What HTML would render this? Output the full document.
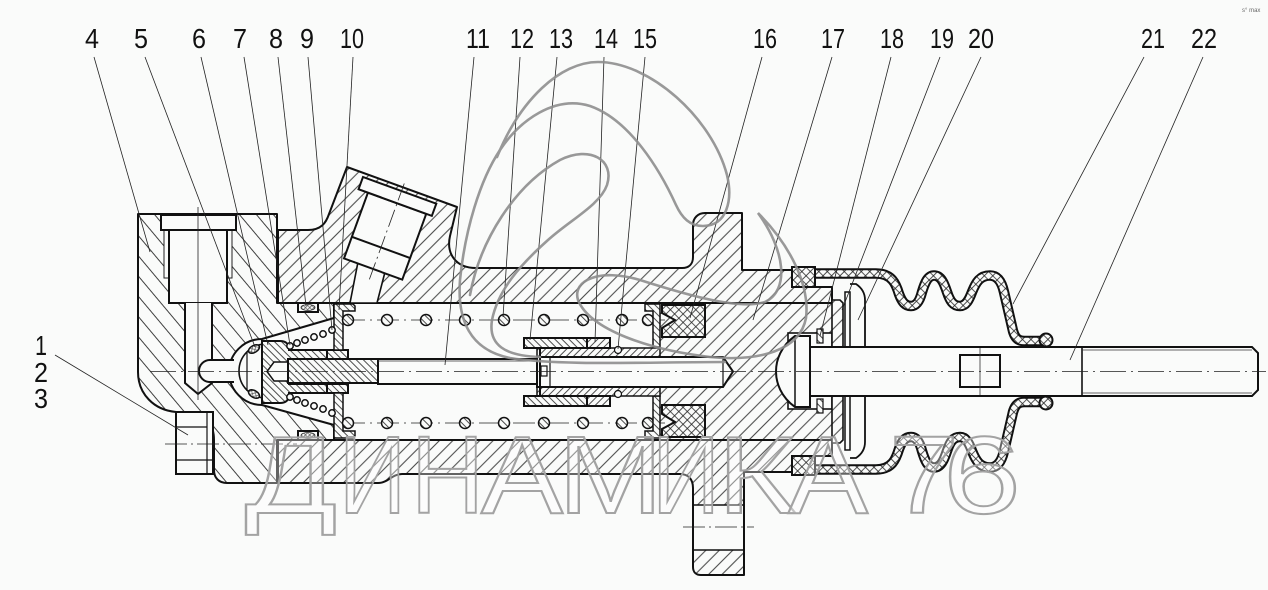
<!DOCTYPE html>
<html><head><meta charset="utf-8"><style>
html,body{margin:0;padding:0;background:#fafbfa;}
svg{display:block}
</style></head><body>
<svg width="1268" height="590" viewBox="0 0 1268 590" xmlns="http://www.w3.org/2000/svg">
<defs>
<pattern id="hR" width="9.5" height="9.5" patternUnits="userSpaceOnUse" patternTransform="rotate(45)"><rect width="9.5" height="9.5" fill="#fafbfa"/><line x1="4.75" y1="-1" x2="4.75" y2="11" stroke="#2a2a2a" stroke-width="0.9"/></pattern>
<pattern id="hL" width="13" height="13" patternUnits="userSpaceOnUse" patternTransform="rotate(-40)"><rect width="13" height="13" fill="#fafbfa"/><line x1="6.5" y1="-1" x2="6.5" y2="14" stroke="#2a2a2a" stroke-width="0.9"/></pattern>
<pattern id="hF" width="5" height="5" patternUnits="userSpaceOnUse" patternTransform="rotate(-45)"><rect width="5" height="5" fill="#fafbfa"/><line x1="2.5" y1="-1" x2="2.5" y2="6" stroke="#222" stroke-width="0.8"/></pattern>
<pattern id="hF2" width="5" height="5" patternUnits="userSpaceOnUse" patternTransform="rotate(45)"><rect width="5" height="5" fill="#fafbfa"/><line x1="2.5" y1="-1" x2="2.5" y2="6" stroke="#222" stroke-width="0.8"/></pattern>
<pattern id="xh" width="6" height="6" patternUnits="userSpaceOnUse" patternTransform="rotate(45)"><rect width="6" height="6" fill="#fafbfa"/><path d="M3 -1 V7 M-1 3 H7" stroke="#222" stroke-width="0.8" fill="none"/></pattern>
<pattern id="xs" width="3" height="3" patternUnits="userSpaceOnUse" patternTransform="rotate(45)"><rect width="3" height="3" fill="#fafbfa"/><path d="M1.5 -1 V4 M-1 1.5 H4" stroke="#333" stroke-width="0.6" fill="none"/></pattern>
</defs>

<rect width="1268" height="590" fill="#fafbfa"/>

<!-- HOUSING (left) -->
<path d="M138 214 L277 214 L277 303 L334 303 L334 318 L262 339 A33 33 0 0 0 262 405 L334 425 L334 440 L277 440 L277 483 L227 483 C219 483 214 478 214 470 L214 440 C214 425 206 413 192 412 L176 412 C154 410 138 394 138 372 Z" fill="url(#hL)" stroke="#111" stroke-width="2" stroke-linejoin="round"/>

<!-- BODY top wall with bosses -->
<path d="M278 230 L308 230 C321 230 326 223 329 214 L347 167 L457 207 L450 236 C446 254 456 268 476 268 L682 268 C689 268 693 264 693 257 L693 225 C693 218 698 213 705 213 L742 213 L742 270 L792 270 L792 287 L832 287 L832 303 L278 303 Z" fill="url(#hR)" stroke="#111" stroke-width="2" stroke-linejoin="round"/>
<!-- BODY bottom wall with flange -->
<path d="M278 440 L832 440 L832 456 L792 456 L792 472 L744 472 L744 575 L701 575 C696 575 693 572 693 567 L693 488 C693 479 688 474 680 474 L402 474 C392 474 388 483 378 483 L278 483 Z" fill="url(#hR)" stroke="#111" stroke-width="2" stroke-linejoin="round"/>
<!-- PISTON -->
<rect x="660" y="303" width="172" height="137" fill="url(#hR)"/>
<line x1="278" y1="303" x2="832" y2="303" stroke="#111" stroke-width="2"/>
<line x1="278" y1="440" x2="832" y2="440" stroke="#111" stroke-width="2"/>

<!-- flange hole -->
<rect x="694" y="505" width="49" height="45" fill="#fafbfa"/>
<line x1="693" y1="505" x2="744" y2="505" stroke="#111" stroke-width="1.6"/>
<line x1="693" y1="550" x2="744" y2="550" stroke="#111" stroke-width="1.6"/>
<line x1="683" y1="527" x2="754" y2="527" stroke="#222" stroke-width="0.8" stroke-dasharray="22 4 2 4"/>

<!-- top bolt in housing -->
<rect x="164" y="230" width="68" height="48" fill="#fafbfa" stroke="#222" stroke-width="1"/>
<rect x="169" y="230" width="58" height="73" fill="#fafbfa" stroke="#111" stroke-width="2"/>
<rect x="161" y="215" width="75" height="15" fill="#fafbfa" stroke="#111" stroke-width="2"/>
<path d="M185 303 L185 383 L198 394 L212 383 L212 303" fill="#fafbfa" stroke="#111" stroke-width="2"/>
<path d="M234 360 L210 360 A11 11 0 0 0 210 382 L234 382" fill="#fafbfa" stroke="#111" stroke-width="2"/>
<line x1="198" y1="207" x2="198" y2="400" stroke="#222" stroke-width="0.8"/>

<!-- bolt 1-3 -->
<rect x="176" y="412" width="37" height="62" fill="#fafbfa" stroke="#111" stroke-width="2"/>
<line x1="176" y1="427" x2="207" y2="427" stroke="#111" stroke-width="1.2"/>
<line x1="176" y1="460" x2="213" y2="460" stroke="#111" stroke-width="1.2"/>
<line x1="207" y1="412" x2="207" y2="474" stroke="#111" stroke-width="1.2"/>
<line x1="165" y1="444" x2="297" y2="444" stroke="#222" stroke-width="0.8" stroke-dasharray="22 4 2 4"/>

<!-- plug in inclined boss -->
<polygon points="358,262 385,272 377,303 350,303" fill="#fafbfa" stroke="#111" stroke-width="1.6"/>
<g transform="translate(363,177) rotate(20)">
<rect x="10" y="13" width="62" height="70" fill="#fafbfa" stroke="#111" stroke-width="2"/>
<line x1="10" y1="60" x2="72" y2="60" stroke="#111" stroke-width="2"/>
<rect x="0" y="0" width="78" height="13" fill="#fafbfa" stroke="#111" stroke-width="2"/>
<line x1="41" y1="-8" x2="41" y2="95" stroke="#222" stroke-width="0.8" stroke-dasharray="18 4 2 4"/>
</g>

<!-- dome cup & valve -->
<path d="M266 344 A27 27 0 0 0 266 398" fill="none" stroke="#111" stroke-width="1.6"/>
<line x1="247" y1="352" x2="247" y2="391" stroke="#111" stroke-width="1.2"/>
<ellipse cx="254" cy="349" rx="6" ry="3.5" transform="rotate(-30 254 349)" fill="url(#xs)" stroke="#111" stroke-width="1.5"/>
<ellipse cx="254" cy="394" rx="6" ry="3.5" transform="rotate(30 254 394)" fill="url(#xs)" stroke="#111" stroke-width="1.5"/>
<path d="M262 341 L280 341 Q288 341 289 348 L289 350 L327 350 L327 359 L289 359 L289 384 L327 384 L327 393 L289 393 L289 396 Q288 403 280 403 L262 403 Z" fill="url(#hF)" stroke="#111" stroke-width="2"/>
<path d="M288 362 L274 362 L267 371.5 L274 381 L288 381 Z" fill="#fafbfa" stroke="#111" stroke-width="1.5"/>
<rect x="288" y="359" width="90" height="24" fill="url(#hF)" stroke="#111" stroke-width="2"/>
<rect x="378" y="359" width="159" height="25" fill="#fafbfa" stroke="#111" stroke-width="2"/>
<line x1="378" y1="361" x2="530" y2="361" stroke="#333" stroke-width="0.8"/>
<rect x="327" y="350" width="21" height="9" fill="url(#hF)" stroke="#111" stroke-width="2"/>
<rect x="327" y="384" width="21" height="9" fill="url(#hF)" stroke="#111" stroke-width="2"/>
<path d="M334 304 L353 304 L355 306 L355 311 L343 311 L343 350 L334 350 Z" fill="url(#hF)" stroke="#111" stroke-width="1.5"/>
<path d="M334 438 L353 438 L355 436 L355 431 L343 431 L343 393 L334 393 Z" fill="url(#hF)" stroke="#111" stroke-width="1.5"/>

<!-- seals 8 -->
<rect x="298" y="303" width="20" height="9" fill="#fafbfa" stroke="#111" stroke-width="2"/>
<ellipse cx="308" cy="307.5" rx="7" ry="3" fill="url(#xs)" stroke="#333" stroke-width="0.8"/>
<rect x="298" y="431" width="20" height="9" fill="#fafbfa" stroke="#111" stroke-width="2"/>
<ellipse cx="308" cy="435.5" rx="7" ry="3" fill="url(#xs)" stroke="#333" stroke-width="0.8"/>

<!-- small spring -->
<g fill="#fafbfa" stroke="#111" stroke-width="1.5">
<circle cx="290" cy="346" r="3.2"/><circle cx="297" cy="343" r="3.2"/><circle cx="305" cy="340" r="3.2"/><circle cx="314" cy="337" r="3.2"/><circle cx="323" cy="334" r="3.2"/><circle cx="332" cy="330" r="3.2"/>
<circle cx="290" cy="397" r="3.2"/><circle cx="297" cy="400" r="3.2"/><circle cx="305" cy="403" r="3.2"/><circle cx="314" cy="406" r="3.2"/><circle cx="323" cy="409" r="3.2"/><circle cx="332" cy="413" r="3.2"/>
</g>

<!-- spring centerlines -->
<line x1="343" y1="320" x2="665" y2="320" stroke="#222" stroke-width="0.8" stroke-dasharray="22 5 2 5"/>
<line x1="343" y1="423" x2="665" y2="423" stroke="#222" stroke-width="0.8" stroke-dasharray="22 5 2 5"/>
<!-- main spring -->
<g fill="url(#hF)" stroke="#111" stroke-width="1.5">
<circle cx="348" cy="320" r="5.5"/><circle cx="387" cy="320" r="5.5"/><circle cx="426" cy="320" r="5.5"/><circle cx="465" cy="320" r="5.5"/><circle cx="504" cy="320" r="5.5"/><circle cx="544" cy="320" r="5.5"/><circle cx="583" cy="320" r="5.5"/><circle cx="622" cy="320" r="5.5"/><circle cx="648" cy="320" r="5.5"/>
<circle cx="348" cy="423" r="5.5"/><circle cx="387" cy="423" r="5.5"/><circle cx="426" cy="423" r="5.5"/><circle cx="465" cy="423" r="5.5"/><circle cx="504" cy="423" r="5.5"/><circle cx="544" cy="423" r="5.5"/><circle cx="583" cy="423" r="5.5"/><circle cx="622" cy="423" r="5.5"/><circle cx="648" cy="423" r="5.5"/>
</g>

<!-- right retainer & cup seals -->
<path d="M645 304 L660 304 L660 347 L653 347 L653 311 L645 311 Z" fill="url(#hF)" stroke="#111" stroke-width="1.5"/>
<path d="M645 438 L660 438 L660 396 L653 396 L653 431 L645 431 Z" fill="url(#hF)" stroke="#111" stroke-width="1.5"/>
<path d="M662 305 L705 305 L705 337 L662 337 L662 328 L675 320 L662 313 Z" fill="url(#xh)" stroke="#111" stroke-width="2"/>
<path d="M662 437 L705 437 L705 405 L662 405 L662 414 L675 422 L662 429 Z" fill="url(#xh)" stroke="#111" stroke-width="2"/>

<!-- sleeves & rod -->
<rect x="537" y="348" width="123" height="9" fill="url(#hF2)" stroke="#111" stroke-width="1.5"/>
<rect x="537" y="387" width="123" height="9" fill="url(#hF2)" stroke="#111" stroke-width="1.5"/>
<rect x="524" y="338" width="63" height="10" fill="url(#hF)" stroke="#111" stroke-width="2"/>
<rect x="587" y="338" width="23" height="10" fill="url(#hF2)" stroke="#111" stroke-width="2"/>
<rect x="524" y="396" width="63" height="10" fill="url(#hF)" stroke="#111" stroke-width="2"/>
<rect x="587" y="396" width="23" height="10" fill="url(#hF2)" stroke="#111" stroke-width="2"/>
<circle cx="618" cy="350" r="3.5" fill="#fafbfa" stroke="#111" stroke-width="1.2"/>
<circle cx="618" cy="394" r="3.5" fill="#fafbfa" stroke="#111" stroke-width="1.2"/>
<path d="M537 357 L723 357 L733 371.5 L723 387 L537 387 Z" fill="#fafbfa" stroke="#111" stroke-width="2"/>
<line x1="723" y1="357" x2="723" y2="387" stroke="#111" stroke-width="1.2"/>
<line x1="540" y1="349" x2="540" y2="395" stroke="#111" stroke-width="2"/>
<line x1="550" y1="357" x2="550" y2="387" stroke="#111" stroke-width="1.2"/>
<rect x="541" y="366" width="6" height="10" fill="none" stroke="#111" stroke-width="1.2"/>

<!-- piston right end -->
<rect x="788" y="333" width="44" height="76" fill="#fafbfa" stroke="#111" stroke-width="1.6"/>
<rect x="817" y="329" width="6" height="14" fill="url(#hF)" stroke="#111" stroke-width="1.2"/>
<rect x="817" y="399" width="6" height="14" fill="url(#hF)" stroke="#111" stroke-width="1.2"/>
<path d="M832 300 L840 300 L843 303 L843 440 L840 443 L832 443 Z" fill="url(#hR)" stroke="#111" stroke-width="1.6"/>
<rect x="845" y="292" width="5" height="158" fill="#fafbfa" stroke="#111" stroke-width="1.5"/>
<path d="M850 284 L856 284 Q865 290 865 300 L865 442 Q865 452 856 458 L850 458" fill="none" stroke="#111" stroke-width="1.8"/>

<!-- boot top -->
<g fill="none" stroke-linejoin="round">
<path d="M800 273.5 L876 273.5 C892 273.5 896 284 899 294 C902 302 905 306 911 306 C917 306 920 300 922 292 C925 282 928 275.5 934 275.5 C941 275.5 944 283 947 292 C950 301 953 306 960 306 C966 306 969 300 972 292 C976 282 980 275.5 990 275.5 C998 275.5 1002 283 1004 292 L1013 331 C1015 338 1018 341 1024 341 L1046 341" stroke="#111" stroke-width="10.5"/>
<path d="M800 273.5 L876 273.5 C892 273.5 896 284 899 294 C902 302 905 306 911 306 C917 306 920 300 922 292 C925 282 928 275.5 934 275.5 C941 275.5 944 283 947 292 C950 301 953 306 960 306 C966 306 969 300 972 292 C976 282 980 275.5 990 275.5 C998 275.5 1002 283 1004 292 L1013 331 C1015 338 1018 341 1024 341 L1046 341" stroke="url(#xh)" stroke-width="6.5"/>
</g>
<g fill="none" stroke-linejoin="round" transform="translate(0,743) scale(1,-1)">
<path d="M800 273.5 L876 273.5 C892 273.5 896 284 899 294 C902 302 905 306 911 306 C917 306 920 300 922 292 C925 282 928 275.5 934 275.5 C941 275.5 944 283 947 292 C950 301 953 306 960 306 C966 306 969 300 972 292 C976 282 980 275.5 990 275.5 C998 275.5 1002 283 1004 292 L1013 331 C1015 338 1018 341 1024 341 L1046 341" stroke="#111" stroke-width="10.5"/>
<path d="M800 273.5 L876 273.5 C892 273.5 896 284 899 294 C902 302 905 306 911 306 C917 306 920 300 922 292 C925 282 928 275.5 934 275.5 C941 275.5 944 283 947 292 C950 301 953 306 960 306 C966 306 969 300 972 292 C976 282 980 275.5 990 275.5 C998 275.5 1002 283 1004 292 L1013 331 C1015 338 1018 341 1024 341 L1046 341" stroke="url(#xh)" stroke-width="6.5"/>
</g>
<circle cx="1046" cy="340" r="6.5" fill="url(#xh)" stroke="#111" stroke-width="2"/>
<circle cx="1046" cy="403" r="6.5" fill="url(#xh)" stroke="#111" stroke-width="2"/>
<rect x="792" y="267" width="23" height="20" fill="url(#xh)" stroke="#111" stroke-width="2"/>
<rect x="792" y="456" width="23" height="19" fill="url(#xh)" stroke="#111" stroke-width="2"/>

<!-- pushrod -->
<path d="M810 347 L1252 347 L1258 353 L1258 390 L1252 396 L810 396 Z" fill="#fafbfa" stroke="#111" stroke-width="2"/>
<line x1="1082" y1="347" x2="1082" y2="396" stroke="#111" stroke-width="1.6"/>
<line x1="1082" y1="350" x2="1252" y2="350" stroke="#333" stroke-width="0.8"/>
<line x1="1082" y1="393" x2="1252" y2="393" stroke="#333" stroke-width="0.8"/>
<path d="M810 336 L795 336 C781 346 776 360 776 371.5 C776 383 781 397 795 407 L810 407 Z" fill="#fafbfa" stroke="#111" stroke-width="2"/>
<line x1="795" y1="336" x2="795" y2="407" stroke="#111" stroke-width="1.5"/>
<rect x="960" y="355" width="40" height="32" fill="none" stroke="#111" stroke-width="2"/>
<line x1="980" y1="348" x2="980" y2="395" stroke="#333" stroke-width="0.8"/>

<!-- main centerline -->
<line x1="150" y1="371.5" x2="1266" y2="371.5" stroke="#222" stroke-width="0.8" stroke-dasharray="26 5 2 5"/>

<!-- leaders -->
<g stroke="#222" stroke-width="0.8">
<line x1="94" y1="57" x2="150" y2="252"/>
<line x1="145" y1="57" x2="255" y2="347"/>
<line x1="201" y1="57" x2="268" y2="345"/>
<line x1="244" y1="57" x2="290" y2="345"/>
<line x1="278" y1="57" x2="306" y2="306"/>
<line x1="308" y1="57" x2="332" y2="330"/>
<line x1="353" y1="57" x2="339" y2="310"/>
<line x1="474" y1="57" x2="445" y2="365"/>
<line x1="520" y1="57" x2="503" y2="317"/>
<line x1="557" y1="57" x2="530" y2="340"/>
<line x1="604" y1="57" x2="595" y2="342"/>
<line x1="645" y1="57" x2="618" y2="349"/>
<line x1="762" y1="57" x2="690" y2="318"/>
<line x1="832" y1="57" x2="753" y2="320"/>
<line x1="891" y1="57" x2="820" y2="336"/>
<line x1="940" y1="57" x2="842" y2="310"/>
<line x1="981" y1="57" x2="858" y2="320"/>
<line x1="1144" y1="57" x2="1013" y2="304"/>
<line x1="1203" y1="57" x2="1070" y2="360"/>
<line x1="55" y1="355" x2="188" y2="435"/>
</g>

<!-- labels -->
<g font-family="Liberation Sans, sans-serif" font-size="28" fill="#111" text-anchor="middle" lengthAdjust="spacingAndGlyphs">
<text x="92" y="48" textLength="14" lengthAdjust="spacingAndGlyphs">4</text>
<text x="141" y="48" textLength="14" lengthAdjust="spacingAndGlyphs">5</text>
<text x="199" y="48" textLength="14" lengthAdjust="spacingAndGlyphs">6</text>
<text x="240" y="48" textLength="14" lengthAdjust="spacingAndGlyphs">7</text>
<text x="276" y="48" textLength="14" lengthAdjust="spacingAndGlyphs">8</text>
<text x="307" y="48" textLength="14" lengthAdjust="spacingAndGlyphs">9</text>
<text x="352" y="48" textLength="24" lengthAdjust="spacingAndGlyphs">10</text>
<text x="478" y="48" textLength="24" lengthAdjust="spacingAndGlyphs">11</text>
<text x="522" y="48" textLength="24" lengthAdjust="spacingAndGlyphs">12</text>
<text x="561" y="48" textLength="24" lengthAdjust="spacingAndGlyphs">13</text>
<text x="606" y="48" textLength="24" lengthAdjust="spacingAndGlyphs">14</text>
<text x="645" y="48" textLength="24" lengthAdjust="spacingAndGlyphs">15</text>
<text x="765" y="48" textLength="24" lengthAdjust="spacingAndGlyphs">16</text>
<text x="833" y="48" textLength="24" lengthAdjust="spacingAndGlyphs">17</text>
<text x="892" y="48" textLength="24" lengthAdjust="spacingAndGlyphs">18</text>
<text x="942" y="48" textLength="24" lengthAdjust="spacingAndGlyphs">19</text>
<text x="981" y="48" textLength="26" lengthAdjust="spacingAndGlyphs">20</text>
<text x="1153" y="48" textLength="24" lengthAdjust="spacingAndGlyphs">21</text>
<text x="1204" y="48" textLength="26" lengthAdjust="spacingAndGlyphs">22</text>
<text x="41" y="355" textLength="12" lengthAdjust="spacingAndGlyphs">1</text>
<text x="41" y="382" textLength="14" lengthAdjust="spacingAndGlyphs">2</text>
<text x="41" y="408" textLength="14" lengthAdjust="spacingAndGlyphs">3</text>
</g>
<text x="1242" y="12" font-family="Liberation Sans, sans-serif" font-size="6" fill="#666">s° max</text>

<!-- watermark -->
<g font-family="Liberation Sans, sans-serif" font-size="110" fill="#ffffff" fill-opacity="0.35" stroke="#a3a3a3" stroke-width="2">
<text x="245" y="513" textLength="92" lengthAdjust="spacingAndGlyphs">Д</text>
<text x="339" y="513" textLength="67" lengthAdjust="spacingAndGlyphs">И</text>
<text x="411" y="513" textLength="73" lengthAdjust="spacingAndGlyphs">Н</text>
<text x="481" y="513" textLength="82" lengthAdjust="spacingAndGlyphs">А</text>
<text x="558" y="513" textLength="105" lengthAdjust="spacingAndGlyphs">М</text>
<text x="652" y="513" textLength="68" lengthAdjust="spacingAndGlyphs">И</text>
<text x="717" y="513" textLength="79" lengthAdjust="spacingAndGlyphs">К</text>
<text x="788" y="513" textLength="80" lengthAdjust="spacingAndGlyphs">А</text>
<text x="889" y="513" textLength="70" lengthAdjust="spacingAndGlyphs">7</text>
<text x="943" y="513" textLength="78" lengthAdjust="spacingAndGlyphs">6</text>
</g>

<!-- swirl logo -->
<g fill="none" stroke="#8e8e8e" stroke-width="2.6" stroke-linecap="round" opacity="0.9">
<path d="M497 157 C520 100 560 62 598 62 C650 62 712 118 727 175 C733 200 727 226 703 226 C690 226 682 218 676 205 C660 170 630 120 590 106 C555 95 520 120 500 150"/>
<path d="M500 150 C480 180 465 230 460 280 C457 320 470 350 510 358 C560 366 650 362 725 362"/>
<path d="M470 295 C480 240 515 185 560 160 C590 145 615 160 607 185 C600 205 570 220 548 240 C520 265 498 290 492 320 C488 345 505 356 540 357"/>
<path d="M758 213 C790 245 810 285 806 318 C800 350 760 362 710 357 C650 350 590 330 578 300 C572 280 600 268 640 280 C690 296 740 310 765 302 C790 290 785 250 758 213 Z"/>
</g>
</svg>
</body></html>
